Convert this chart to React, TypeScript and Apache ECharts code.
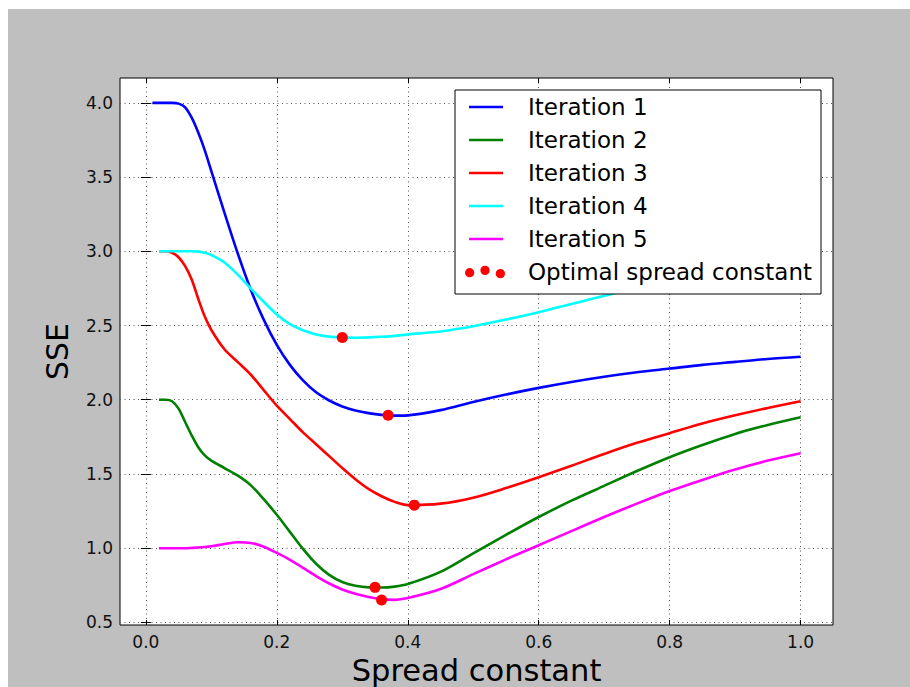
import React, { useEffect, useRef } from "react";
import * as echarts from "echarts";

const FONT = "DejaVu Sans";

// Spread constant values (Iteration 1 starts at 0.01, the others at 0.02)
const xIter1 = [0.01, 0.02, 0.03, 0.04, 0.05, 0.06, 0.07, 0.08, 0.09, 0.1, 0.12, 0.14, 0.16, 0.18, 0.2, 0.22, 0.24, 0.26, 0.28, 0.3, 0.32, 0.34, 0.36, 0.38, 0.4, 0.45, 0.5, 0.55, 0.6, 0.65, 0.7, 0.75, 0.8, 0.85, 0.9, 0.95, 1.0];
const xOther = [0.02, 0.03, 0.04, 0.05, 0.06, 0.07, 0.08, 0.09, 0.1, 0.12, 0.14, 0.16, 0.18, 0.2, 0.22, 0.24, 0.26, 0.28, 0.3, 0.32, 0.34, 0.36, 0.38, 0.4, 0.45, 0.5, 0.55, 0.6, 0.65, 0.7, 0.75, 0.8, 0.85, 0.9, 0.95, 1.0];

const sseIter1 = [4.0, 4.0, 4.0, 4.0, 3.995, 3.97, 3.9, 3.8, 3.68, 3.54, 3.26, 2.99, 2.745, 2.54, 2.37, 2.235, 2.13, 2.05, 1.995, 1.955, 1.928, 1.91, 1.898, 1.893, 1.895, 1.93, 1.985, 2.035, 2.08, 2.12, 2.155, 2.185, 2.21, 2.235, 2.255, 2.275, 2.29];
const sseIter2 = [2.0, 2.0, 1.99, 1.94, 1.85, 1.76, 1.68, 1.625, 1.59, 1.54, 1.49, 1.425, 1.33, 1.225, 1.11, 0.995, 0.895, 0.82, 0.772, 0.747, 0.736, 0.735, 0.741, 0.758, 0.84, 0.965, 1.09, 1.21, 1.32, 1.42, 1.52, 1.613, 1.695, 1.77, 1.83, 1.882];
const sseIter3 = [3.0, 3.0, 2.99, 2.96, 2.9, 2.81, 2.68, 2.56, 2.47, 2.34, 2.255, 2.17, 2.065, 1.96, 1.87, 1.78, 1.7, 1.62, 1.54, 1.465, 1.4, 1.35, 1.312, 1.29, 1.3, 1.34, 1.405, 1.478, 1.555, 1.635, 1.71, 1.775, 1.84, 1.895, 1.945, 1.99];
const sseIter4 = [3.0, 3.0, 3.0, 3.0, 3.0, 3.0, 2.998, 2.99, 2.975, 2.925, 2.845, 2.75, 2.66, 2.575, 2.51, 2.468, 2.44, 2.425, 2.42, 2.418, 2.42, 2.424, 2.43, 2.44, 2.46, 2.495, 2.54, 2.59, 2.645, 2.7, 2.76, 2.815, 2.87, 2.92, 2.97, 3.01];
const sseIter5 = [1.0, 1.0, 1.0, 1.0, 1.0, 1.002, 1.005, 1.008, 1.013, 1.028, 1.04, 1.035, 1.01, 0.968, 0.922, 0.868, 0.812, 0.762, 0.722, 0.693, 0.671, 0.657, 0.652, 0.664, 0.725, 0.825, 0.925, 1.02, 1.115, 1.21, 1.3, 1.385, 1.46, 1.53, 1.59, 1.64];

const optimalX = [0.3, 0.37, 0.41, 0.35, 0.36];
const optimalY = [2.42, 1.895, 1.29, 0.736, 0.651];

const seriesNames = ["Iteration 1", "Iteration 2", "Iteration 3", "Iteration 4", "Iteration 5"];
const seriesColors = ["#0000ff", "#008000", "#ff0000", "#00ffff", "#ff00ff"];
const optimalName = "Optimal spread constant";

const xTicks = [0.0, 0.2, 0.4, 0.6, 0.8, 1.0];
const yTicks = [0.5, 1.0, 1.5, 2.0, 2.5, 3.0, 3.5, 4.0];

const X_MIN = -0.0395;
const X_MAX = 1.0495;
const Y_MIN = 0.4825;
const Y_MAX = 4.1675;

const zip = (xs: number[], ys: number[]) => xs.map((x, i) => [x, ys[i]]);

// legend handles, drawn in a 40x14 box (tiny corner triangles fix the box)
const LINE_HANDLE =
  "path://M0,0L0.01,0L0,0.01Z M40,14L39.99,14L40,13.99Z M4,5.7H38V8.3H4Z";
const THREE_DOTS =
  "path://M0.5,8a5,5 0 1,0 10,0a5,5 0 1,0 -10,0Z M17,5.5a5,5 0 1,0 10,0a5,5 0 1,0 -10,0Z M33.5,9a5,5 0 1,0 10,0a5,5 0 1,0 -10,0Z";

function buildOption() {
  const xList = [xIter1, xOther, xOther, xOther, xOther];
  const yList = [sseIter1, sseIter2, sseIter3, sseIter4, sseIter5];
  const tickStyle = { color: "#000", width: 1 };
  const gridLine = { show: true, lineStyle: { color: "#555", width: 1, type: [1, 3.5] } };
  const lineSeries = seriesNames.map((name, i) => ({
    type: "line",
    name,
    data: zip(xList[i], yList[i]),
    symbol: "none",
    showSymbol: false,
    smooth: 0.3,
    lineStyle: { color: seriesColors[i], width: 2.6 },
    itemStyle: { color: seriesColors[i] },
    z: 2,
  }));
  return {
    animation: false,
    backgroundColor: "#bfbfbf",
    grid: {
      left: 112,
      top: 69,
      width: 713,
      height: 547,
      containLabel: false,
      outerBoundsMode: "none",
      show: true,
      backgroundColor: "#fff",
      borderColor: "#000",
      borderWidth: 1,
    },
    xAxis: [
      {
        type: "value",
        min: X_MIN,
        max: X_MAX,
        position: "bottom",
        axisLine: { show: false },
        axisTick: { show: true, inside: true, length: 5, customValues: xTicks, lineStyle: tickStyle },
        axisLabel: {
          customValues: xTicks,
          formatter: (v: number) => v.toFixed(1),
          fontSize: 17,
          fontFamily: FONT,
          color: "#111",
          margin: 8,
        },
        splitLine: gridLine,
        name: "Spread constant",
        nameLocation: "middle",
        nameGap: 25,
        nameTextStyle: { fontSize: 30.5, lineHeight: 30, fontFamily: FONT, color: "#000" },
      },
      {
        type: "value",
        min: X_MIN,
        max: X_MAX,
        position: "top",
        axisLine: { show: false },
        axisTick: { show: true, inside: true, length: 5, customValues: xTicks, lineStyle: tickStyle },
        axisLabel: { show: false },
        splitLine: { show: false },
      },
    ],
    yAxis: [
      {
        type: "value",
        min: Y_MIN,
        max: Y_MAX,
        position: "left",
        axisLine: { show: false },
        axisTick: { show: true, inside: true, length: 5, customValues: yTicks, lineStyle: tickStyle },
        axisLabel: {
          customValues: yTicks,
          formatter: (v: number) => v.toFixed(1),
          fontSize: 17,
          fontFamily: FONT,
          color: "#111",
          margin: 7,
        },
        splitLine: gridLine,
        name: "SSE",
        nameLocation: "middle",
        nameGap: 48,
        nameTextStyle: { fontSize: 30, fontFamily: FONT, color: "#000" },
      },
      {
        type: "value",
        min: Y_MIN,
        max: Y_MAX,
        position: "right",
        axisLine: { show: false },
        axisTick: { show: true, inside: true, length: 5, customValues: yTicks, lineStyle: tickStyle },
        axisLabel: { show: false },
        splitLine: { show: false },
      },
    ],
    legend: {
      orient: "vertical",
      right: 89,
      top: 81,
      itemWidth: 40,
      itemHeight: 14,
      itemGap: 9,
      padding: [5, 9, 10, 10],
      backgroundColor: "#fff",
      borderColor: "#000",
      borderWidth: 1,
      selectedMode: false,
      z: 10,
      textStyle: { fontSize: 23, fontFamily: FONT, color: "#000", lineHeight: 24, padding: [0, 0, 0, 18] },
      data: [
        ...seriesNames.map((name, i) => ({
          name,
          icon: LINE_HANDLE,
          itemStyle: { color: seriesColors[i], borderWidth: 0, opacity: 1 },
        })),
        { name: optimalName, icon: THREE_DOTS, itemStyle: { color: "#ff0000", borderWidth: 0, opacity: 1 } },
      ],
    },
    series: [
      ...lineSeries,
      {
        type: "scatter",
        name: optimalName,
        data: zip(optimalX, optimalY),
        symbol: "circle",
        symbolSize: 11,
        itemStyle: { color: "#ff0000", opacity: 1 },
        z: 5,
      },
    ],
  };
}

export default function App() {
  const ref = useRef<HTMLDivElement>(null);
  useEffect(() => {
    if (!ref.current) return;
    const chart = echarts.init(ref.current, null, { renderer: "svg" });
    chart.setOption(buildOption() as any);
    return () => chart.dispose();
  }, []);
  return (
    <div
      ref={ref}
      style={{ position: "absolute", left: 8, top: 9, width: 902, height: 678, background: "#bfbfbf" }}
    />
  );
}
